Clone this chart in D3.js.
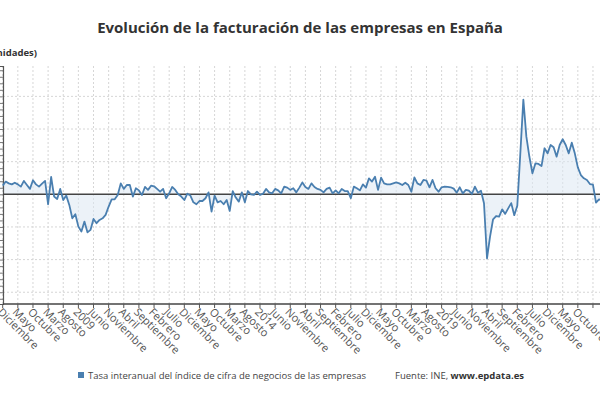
<!DOCTYPE html>
<html>
<head>
<meta charset="utf-8">
<script src="https://cdn.jsdelivr.net/npm/d3@7"></script>
<style>
  body { margin: 0; background: #fff; }
  svg { display: block; font-family: "Open Sans", sans-serif; }
</style>
</head>
<body>
<div id="chart"></div>
<script>
// data: tasa interanual (%), mensual desde diciembre 2006
const startMonth = "2006-12";
const monthNames = ["Enero", "Febrero", "Marzo", "Abril", "Mayo", "Junio", "Julio",
  "Agosto", "Septiembre", "Octubre", "Noviembre", "Diciembre"];
const values = [
  5.3, 7.8, 6.7, 6.1, 7.1, 6.1, 4.7, 8.2, 5.7, 3.3,
  8.6, 6.1, 4.7, 6.5, 8.2, -6.1, 10.6, -1.4, -2.9, 3.3,
  -3.5, -0.8, -6.5, -14.7, -12.2, -19.8, -22.8, -16.7, -23.3, -21.8,
  -15.1, -17.7, -15.7, -14.7, -12.6, -7.5, -3.1, -3.1, -0.4, 6.7,
  3.3, 5.7, 5.7, -1.4, 3.7, 2.4, -0.4, 4.5, 2.7, 5.3,
  4.9, 3.3, 1.6, 3.3, -2.4, 0.6, 4.5, 2.7, 0, -1.4,
  -3.5, 0.4, -0.8, -4.9, -6.1, -4.1,
  -4.1, -2.4, 1.2, -10.6, -0.8, -4.9, -4.1, -6.1, -3.5, -10.2,
  2.0, -2.0, -4.5, 1.2, -4.9, 2.0, 0, -0.4, 1.6, -0.4,
  0.4, 3.3, 1.2, 0.6, 3.3, 2.4, 0.6, 4.7, 4.1, 2.7,
  3.7, 1.2, 4.1, 7.3, 4.5, 3.3, 6.7, 4.5, 3.3, 2.7,
  1.2, 3.3, 4.1, 0.6, 2.4, 0.6, 3.3, 2.0, 2.0, -2.4,
  4.7, 3.7, 2.4, 6.1, 4.1, 9.8, 7.8, 10.8, 2.7, 10.2,
  6.7, 6.1, 6.1, 6.7, 7.3, 6.7,
  5.7, 7.1, 5.7, 1.6, 10.4, 6.7, 5.7, 8.8, 8.4, 4.3,
  8.8, 3.7, 1.6, 4.3, 4.7, 4.5, 4.3, 3.5, 1.0, 4.3,
  0.6, 2.7, 2.2, 0.2, 4.7, 1.0, 2.2, -5.5, -39.2, -25.9,
  -15.3, -13.3, -13.7, -9.2, -12.0, -8.6, -5.4, -12.8, -7, 25,
  58, 35.3, 23, 12.9, 19.0, 18.6, 17.3, 28.2, 25.1, 30.2,
  28.8, 23.1, 30.2, 33.7, 30.2, 25.1, 31.6, 25.1, 16.5, 11.8,
  9.8, 8.8, 6.3, 5.9, -5.1, -3.1, -3.9
];
const yTicks = [-60, -40, -20, 0, 20, 40, 60];
const tickEvery = 5;

const seriesName = "Tasa interanual del índice de cifra de negocios de las empresas";
const lineColor = "#4a7fb0";

// dimensions (the plot runs off the right edge, as in the original)
const width = 600, height = 400;
const plot = {left: 3, top: 66, bottom: 304, step: 3.027};

const start = d3.timeParse("%Y-%m")(startMonth);
const data = values.map((v, i) => ({date: d3.timeMonth.offset(start, i), value: v}));

const label = function(d){
  return d.getMonth() == 0 ? String(d.getFullYear()) : monthNames[d.getMonth()];
};

const x = d3.scaleLinear()
  .domain([0, data.length - 1])
  .range([2.7, 2.7 + (data.length - 1) * plot.step]);
const y = d3.scaleLinear()
  .domain([-67.2, 78.6])
  .range([plot.bottom, plot.top]);

const svg = d3.select("#chart").append("svg")
  .attr("width", width)
  .attr("height", height);

// title
svg.append("text")
  .attr("x", 300).attr("y", 33)
  .attr("text-anchor", "middle")
  .style("font-size", "15px")
  .style("font-weight", "bold")
  .attr("fill", "#333")
  .text("Evolución de la facturación de las empresas en España");

svg.append("text")
  .attr("x", 37).attr("y", 56)
  .attr("text-anchor", "end")
  .style("font-size", "9.5px")
  .style("font-weight", "bold")
  .attr("fill", "#333")
  .text("(unidades)");

const tickIdx = d3.range(0, data.length, tickEvery);

// grid
svg.append("g")
  .selectAll("line")
  .data(tickIdx)
  .join("line")
    .attr("x1", d => x(d)).attr("x2", d => x(d))
    .attr("y1", plot.top).attr("y2", plot.bottom)
    .attr("stroke", "#d6d6d6")
    .attr("stroke-dasharray", "2,2");
svg.append("g")
  .selectAll("line")
  .data(yTicks.filter(d => d != 0))
  .join("line")
    .attr("x1", plot.left).attr("x2", width)
    .attr("y1", d => y(d)).attr("y2", d => y(d))
    .attr("stroke", "#d6d6d6")
    .attr("stroke-dasharray", "2,2");

// area between line and zero
const area = d3.area()
  .x((d, i) => x(i))
  .y0(y(0))
  .y1(d => y(d.value));
svg.append("path")
  .datum(data)
  .attr("d", area)
  .attr("fill", "#dde8f3")
  .attr("fill-opacity", 0.55);

// y axis (labels fall outside the cropped view)
const yAxis = svg.append("g")
  .attr("transform", `translate(${plot.left},0)`)
  .call(d3.axisLeft(y).tickValues(d3.range(-64, 77, 4)).tickSize(3).tickFormat(""));
yAxis.select(".domain").attr("stroke", "#555").attr("stroke-width", 1.2);
yAxis.selectAll(".tick line").attr("stroke", "#777");

// zero line
svg.append("line")
  .attr("x1", plot.left).attr("x2", width)
  .attr("y1", y(0)).attr("y2", y(0))
  .attr("stroke", "#444")
  .attr("stroke-width", 1.5);

// series line
const line = d3.line()
  .x((d, i) => x(i))
  .y(d => y(d.value));
svg.append("path")
  .datum(data)
  .attr("d", line)
  .attr("fill", "none")
  .attr("stroke", lineColor)
  .attr("stroke-width", 1.8)
  .attr("stroke-linejoin", "round");

// x axis
svg.append("line")
  .attr("x1", plot.left).attr("x2", width)
  .attr("y1", plot.bottom).attr("y2", plot.bottom)
  .attr("stroke", "#444")
  .attr("stroke-width", 1.5);
const xTicks = svg.append("g")
  .selectAll("g")
  .data(tickIdx)
  .join("g")
    .attr("transform", d => `translate(${x(d)},${plot.bottom})`);
xTicks.append("line")
  .attr("y2", 4)
  .attr("stroke", "#555");
// labels too close to the cut edge are hidden, as in the original
xTicks.filter(d => x(d) < 585).append("text")
  .attr("transform", "translate(-3,6) rotate(45)")
  .attr("dy", "0.35em")
  .style("font-size", "11px")
  .attr("fill", "#555")
  .text(d => label(data[d].date));

// legend
const legend = svg.append("g");
legend.append("rect")
  .attr("x", 78).attr("y", 372)
  .attr("width", 6).attr("height", 6)
  .attr("fill", lineColor);
legend.append("text")
  .attr("x", 88).attr("y", 378.5)
  .style("font-size", "9.5px")
  .attr("fill", "#444")
  .text(seriesName);
const fuente = legend.append("text")
  .attr("x", 395).attr("y", 378.5)
  .style("font-size", "9.5px")
  .attr("fill", "#444");
fuente.append("tspan").text("Fuente: INE, ");
fuente.append("tspan").style("font-weight", "bold").attr("fill", "#333").text("www.epdata.es");
</script>
</body>
</html>
